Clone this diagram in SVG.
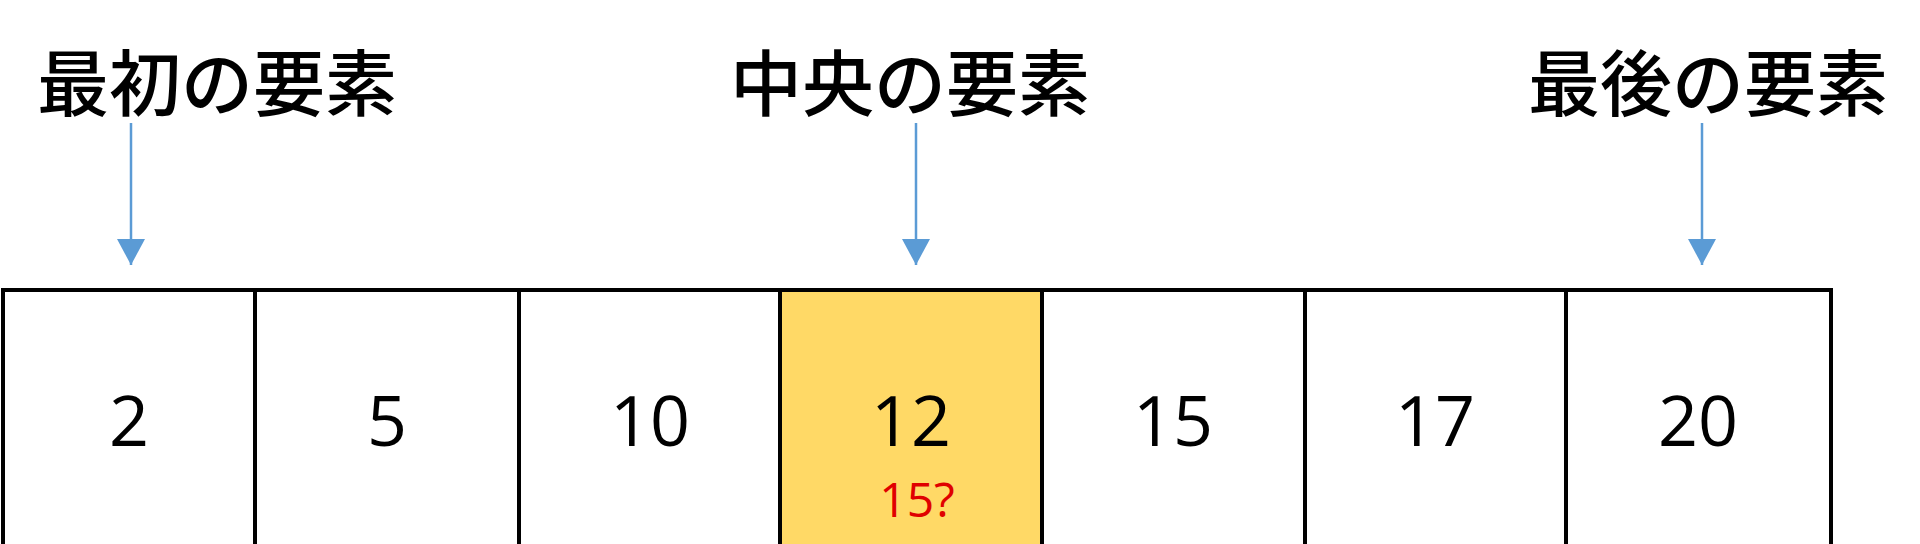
<svg xmlns="http://www.w3.org/2000/svg" width="1920" height="544" viewBox="0 0 1920 544">
<style>
.title{font-family:"Noto Sans CJK JP","Noto Sans",sans-serif;font-size:72px;font-weight:500;fill:#000;text-anchor:middle}
.cell{fill:#fff;stroke:#000;stroke-width:4}
.mid{fill:#FFD966;stroke:#000;stroke-width:4}
.num{font-family:"Open Sans","Liberation Sans",sans-serif;font-size:70px;fill:#000;text-anchor:middle}
.q{font-family:"Open Sans","Liberation Sans",sans-serif;font-size:48px;fill:#E00000;text-anchor:middle}
.arr{stroke:#5B9BD5;stroke-width:2.5;fill:none}
</style>
<defs>
<marker id="ah" markerWidth="12" markerHeight="12" refX="0" refY="0" viewBox="-6 -6 12 12" markerUnits="userSpaceOnUse" orient="auto" overflow="visible">
<path d="M-26,-14 L0,0 L-26,14 Z" fill="#5B9BD5"/>
</marker>
</defs>
<rect width="1920" height="544" fill="#fff"/>
<g id="label-first"><text class="title" x="217" y="110">最初の要素</text></g>
<g id="label-middle"><text class="title" x="910" y="110">中央の要素</text></g>
<g id="label-last"><text class="title" x="1708" y="110">最後の要素</text></g>
<g id="connectors">
<line class="arr" x1="131" y1="123" x2="131" y2="265" marker-end="url(#ah)"/>
<line class="arr" x1="916" y1="123" x2="916" y2="265" marker-end="url(#ah)"/>
<line class="arr" x1="1702" y1="123" x2="1702" y2="265" marker-end="url(#ah)"/>
</g>
<g id="cell-0"><rect class="cell" x="3" y="290" width="252" height="270"/><text class="num" x="129" y="446">2</text></g>
<g id="cell-1"><rect class="cell" x="255" y="290" width="264" height="270"/><text class="num" x="387" y="446">5</text></g>
<g id="cell-2"><rect class="cell" x="519" y="290" width="261" height="270"/><text class="num" x="650" y="446">10</text></g>
<g id="cell-3"><rect class="mid" x="780" y="290" width="262" height="270"/><text class="num" x="911" y="446">12</text><text class="q" x="917" y="517">15?</text></g>
<g id="cell-4"><rect class="cell" x="1042" y="290" width="263" height="270"/><text class="num" x="1173" y="446">15</text></g>
<g id="cell-5"><rect class="cell" x="1305" y="290" width="261" height="270"/><text class="num" x="1435" y="446">17</text></g>
<g id="cell-6"><rect class="cell" x="1566" y="290" width="265" height="270"/><text class="num" x="1698" y="446">20</text></g>
</svg>
